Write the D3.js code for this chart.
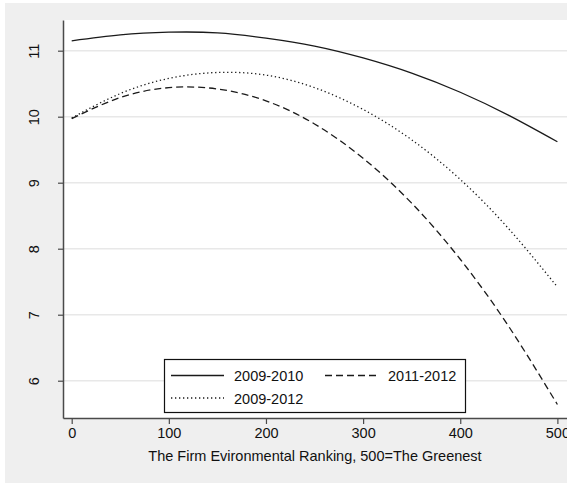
<!DOCTYPE html>
<html>
<head>
<meta charset="utf-8">
<script src="https://cdn.jsdelivr.net/npm/d3@7"></script>
<style>
  body { margin: 0; background: #fff; }
  svg text { font-family: "Liberation Sans", Arial, sans-serif; }
</style>
</head>
<body>
<div id="my_dataviz"></div>
<script>
// ranking positions where the fitted curves were read
var ranks = [0, 50, 100, 150, 200, 250, 300, 350, 400, 450, 500];

// fitted values
var fit0910 = [11.15, 11.24, 11.28, 11.27, 11.19, 11.07, 10.89, 10.66, 10.37, 10.02, 9.62];
var fit1112 = [9.97, 10.29, 10.44, 10.42, 10.24, 9.89, 9.37, 8.69, 7.84, 6.82, 5.64];
var fit0912 = [9.98, 10.35, 10.58, 10.67, 10.63, 10.44, 10.11, 9.65, 9.05, 8.30, 7.42];

var xTicks = [0, 100, 200, 300, 400, 500];
var yTicks = [6, 7, 8, 9, 10, 11];

var series = [
  { name: "2009-2010", values: fit0910, dash: null },
  { name: "2011-2012", values: fit1112, dash: "7,4" },
  { name: "2009-2012", values: fit0912, dash: "1.3,2.7" }
];

var W = 567, H = 483;
var plot = { left: 63, right: 567, top: 20, bottom: 418 };

var svg = d3
  .select("#my_dataviz")
  .append("svg")
  .attr("id", "svg")
  .attr("width", W)
  .attr("height", H);

// outer grey background
svg.append("rect")
  .attr("x", 5).attr("y", 3)
  .attr("width", W - 5).attr("height", H - 3)
  .attr("fill", "#efefef");

// plot region
svg.append("rect")
  .attr("x", plot.left).attr("y", plot.top)
  .attr("width", plot.right - plot.left).attr("height", plot.bottom - plot.top)
  .attr("fill", "#ffffff");

var x = d3.scaleLinear().domain([-8.95, 509.9]).range([plot.left, plot.right]);
var y = d3.scaleLinear().domain([5.435, 11.465]).range([plot.bottom, plot.top]);

// gridlines
svg.append("g")
  .selectAll("line")
  .data(yTicks)
  .enter()
  .append("line")
  .attr("x1", plot.left)
  .attr("x2", plot.right)
  .attr("y1", function (d) { return y(d); })
  .attr("y2", function (d) { return y(d); })
  .attr("stroke", "#e8e8e8")
  .attr("stroke-width", 1.5);

// lines
var line = d3.line()
  .x(function (d) { return x(d[0]); })
  .y(function (d) { return y(d[1]); })
  .curve(d3.curveNatural);

series.forEach(function (s) {
  svg.append("path")
    .datum(ranks.map(function (r, i) { return [r, s.values[i]]; }))
    .attr("d", line)
    .attr("fill", "none")
    .attr("stroke", "#1a1a1a")
    .attr("stroke-width", 1.3)
    .attr("stroke-dasharray", s.dash);
});

// X axis
var xAxis = svg.append("g")
  .attr("transform", "translate(0," + plot.bottom + ")")
  .call(d3.axisBottom(x).tickValues(xTicks).tickSize(6).tickSizeOuter(0).tickPadding(4));
xAxis.selectAll("text")
  .attr("font-size", 14.5)
  .attr("fill", "#111")
  .attr("font-family", "Liberation Sans, Arial, sans-serif");

// Y axis
var yAxis = svg.append("g")
  .attr("transform", "translate(" + plot.left + ",0)")
  .call(d3.axisLeft(y).tickValues(yTicks).tickSize(5).tickSizeOuter(0).tickFormat(d3.format("d")));
yAxis.selectAll("text")
  .attr("font-size", 14.5)
  .attr("fill", "#111")
  .attr("font-family", "Liberation Sans, Arial, sans-serif")
  .attr("x", null).attr("dy", null)
  .attr("text-anchor", "middle")
  .attr("transform", "translate(-24.5,0)rotate(-90)");

[xAxis, yAxis].forEach(function (a) {
  a.select(".domain").attr("stroke", "#4a4a4a").attr("stroke-width", 1.5);
  a.selectAll(".tick line").attr("stroke", "#4a4a4a").attr("stroke-width", 1.2);
});

// x title
svg.append("text")
  .attr("x", (plot.left + plot.right) / 2)
  .attr("y", 461)
  .attr("text-anchor", "middle")
  .attr("font-size", 14.5)
  .attr("fill", "#111")
  .text("The Firm Evironmental Ranking, 500=The Greenest");

// legend
var legend = svg.append("g");
legend.append("rect")
  .attr("x", 164.5).attr("y", 359.5)
  .attr("width", 301).attr("height", 53)
  .attr("fill", "#fff")
  .attr("stroke", "#111")
  .attr("stroke-width", 1.2);

var legendPos = [
  { x: 171, y: 375.5 },
  { x: 325, y: 375.5 },
  { x: 171, y: 398 }
];
series.forEach(function (s, i) {
  var p = legendPos[i];
  legend.append("line")
    .attr("x1", p.x).attr("x2", p.x + 53)
    .attr("y1", p.y).attr("y2", p.y)
    .attr("stroke", "#1a1a1a")
    .attr("stroke-width", 1.3)
    .attr("stroke-dasharray", s.dash);
  legend.append("text")
    .attr("x", p.x + 63)
    .attr("y", p.y + 5.5)
    .attr("font-size", 14.5)
    .attr("fill", "#111")
    .text(s.name);
});
</script>
</body>
</html>
